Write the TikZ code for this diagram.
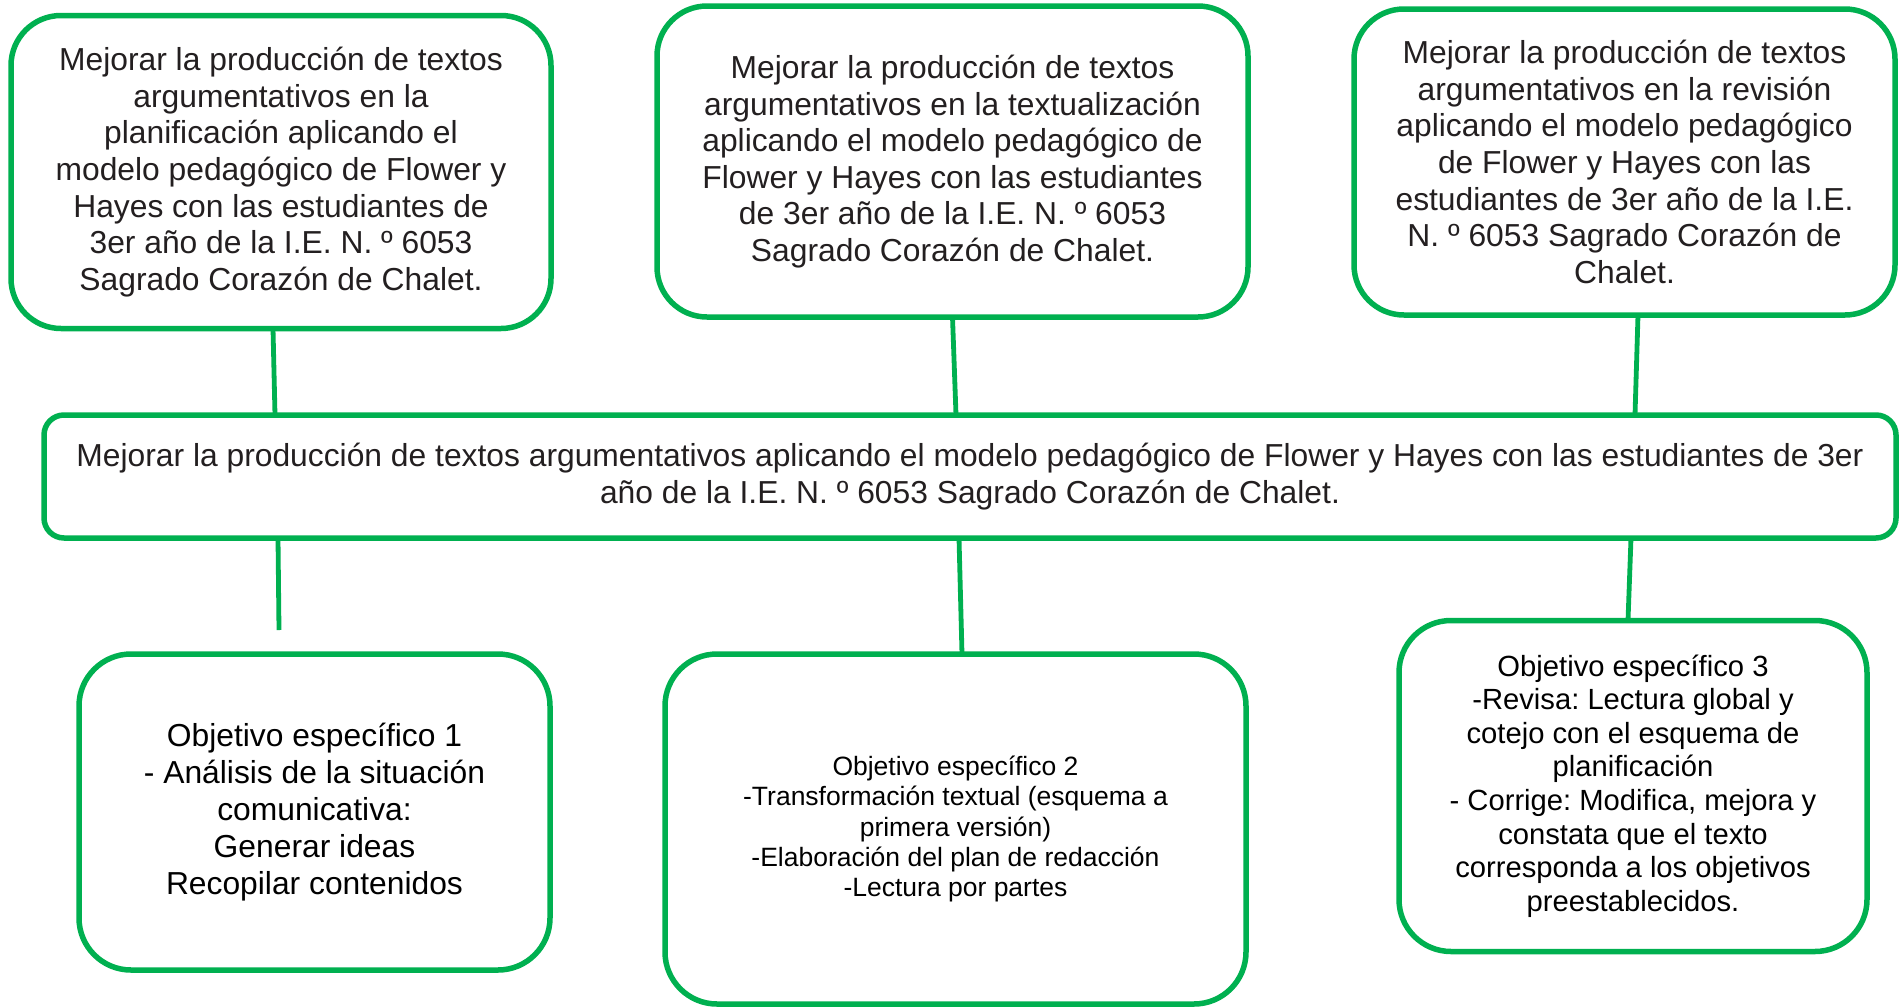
\documentclass[tikz,border=0pt]{standalone}
\usepackage{fontspec}
\setmainfont{Liberation Sans}
\frenchspacing
\definecolor{boxgreen}{HTML}{00B050}
\definecolor{topink}{HTML}{231F20}
\begin{document}
\begin{tikzpicture}[x=1pt,y=-1pt,
  gbox/.style={draw=boxgreen, line width=5.5pt, fill=white, inner sep=0pt, outer sep=0pt, align=center},
  topbox/.style={gbox, rounded corners=50pt, text=topink, font=\fontsize{31.8}{36.6}\selectfont\frenchspacing},
  mainbox/.style={gbox, rounded corners=20pt, text=topink, font=\fontsize{31.8}{36.6}\selectfont\frenchspacing},
  objbox/.style={gbox, rounded corners=52pt, text=black},
  conn/.style={draw=boxgreen, line width=4.8pt}]
\fill[white] (0,0) rectangle (1899,1007);
\useasboundingbox (0,0) rectangle (1899,1007);

% top boxes
\node[topbox, minimum width=540pt, minimum height=313pt] (b1) at (281,172)
  {Mejorar la producción de textos\\argumentativos en la\\planificación aplicando el\\modelo pedagógico de Flower y\\Hayes con las estudiantes de\\3er año de la I.E. N. º 6053\\Sagrado Corazón de Chalet.};
\node[topbox, minimum width=591pt, minimum height=311pt] (b2) at (952.5,161.5)
  {Mejorar la producción de textos\\argumentativos en la textualización\\aplicando el modelo pedagógico de\\Flower y Hayes con las estudiantes\\de 3er año de la I.E. N. º 6053\\Sagrado Corazón de Chalet.};
\node[topbox, minimum width=541pt, minimum height=306pt] (b3) at (1624.5,162)
  {Mejorar la producción de textos\\argumentativos en la revisión\\aplicando el modelo pedagógico\\de Flower y Hayes con las\\estudiantes de 3er año de la I.E.\\N. º 6053 Sagrado Corazón de\\Chalet.};

% main box
\node[mainbox, minimum width=1852pt, minimum height=123pt] (main) at (970,476.5)
  {Mejorar la producción de textos argumentativos aplicando el modelo pedagógico de Flower y Hayes con las estudiantes de 3er\\año de la I.E. N. º 6053 Sagrado Corazón de Chalet.};

% bottom boxes
\node[objbox, minimum width=471pt, minimum height=316pt, font=\fontsize{31.8}{36.8}\selectfont\frenchspacing] (b4) at (314.5,812)
  {Objetivo específico 1\\- Análisis de la situación\\comunicativa:\\Generar ideas\\Recopilar contenidos};
\node[objbox, minimum width=581pt, minimum height=350pt, font=\fontsize{26.5}{30.4}\selectfont\frenchspacing] (b5) at (955.5,829)
  {Objetivo específico 2\\-Transformación textual (esquema a\\primera versión)\\-Elaboración del plan de redacción\\-Lectura por partes};
\node[objbox, minimum width=468pt, minimum height=331pt, font=\fontsize{29.2}{33.6}\selectfont\frenchspacing] (b6) at (1633,786)
  {Objetivo específico 3\\-Revisa: Lectura global y\\cotejo con el esquema de\\planificación\\- Corrige: Modifica, mejora y\\constata que el texto\\corresponda a los objetivos\\preestablecidos.};

\coordinate (e4) at (279,630);

% connectors
\draw[conn] ([xshift=-8pt]b1.south) -- ([xshift=-695pt]main.north);
\draw[conn] (b2.south) -- ([xshift=-14pt]main.north);
\draw[conn] ([xshift=13.5pt]b3.south) -- ([xshift=665pt]main.north);
\draw[conn] ([xshift=-692pt]main.south) -- (e4);
\draw[conn] ([xshift=-11pt]main.south) -- ([xshift=6.5pt]b5.north);
\draw[conn] ([xshift=661pt]main.south) -- ([xshift=-5pt]b6.north);
\end{tikzpicture}
\end{document}
